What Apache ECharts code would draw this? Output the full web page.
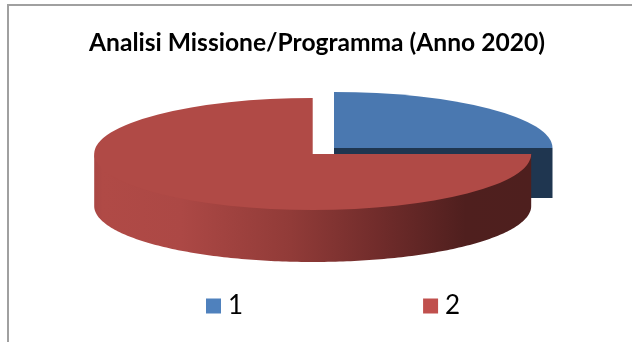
<!DOCTYPE html>
<html><head><meta charset="utf-8">
<style>html,body{margin:0;padding:0;background:#fff}#c{width:632px;height:342px}</style>
<script src="https://cdn.jsdelivr.net/npm/echarts@6/dist/echarts.min.js"></script>
</head><body><div id="c"></div>
<script>
const categories = ['1', '2'];
const values = [25, 75];
const titleText = 'Analisi Missione/Programma (Anno 2020)';
const legendColors = ['#4f81bd', '#c0504d'];
const topColors = ['#4a78b0', '#b04a46'];
const cutColor = '#1f3650';

const RX = 218.5, RY = 56;
const centers = [[334, 148], [312.7, 154]];
const depths = [50, 52];
const total = values.reduce((a, b) => a + b, 0);

function pt(c, deg) {           // deg: clockwise from north, on the tilted ellipse
  const a = deg * Math.PI / 180;
  return [c[0] + RX * Math.sin(a), c[1] - RY * Math.cos(a)];
}
function renderSlice(idx) {
  const start = values.slice(0, idx).reduce((a, b) => a + b, 0) / total * 360;
  const end = start + values[idx] / total * 360;
  const c = centers[idx], d = depths[idx];
  const children = [];
  // cut face on the east radius (seen when the slice ends at 90 deg)
  if (Math.abs(end - 90) < 1e-6) {
    const e = pt(c, end);
    children.push({ type: 'polygon', shape: { points: [c, e, [e[0], e[1] + d], [c[0], c[1] + d]] },
      style: { fill: cutColor } });
  }
  // curved outer wall on the front half; its top edge tucks under the top face
  const s0 = Math.max(start, 90), s1 = Math.min(end, 270);
  if (s1 > s0) {
    const up = [], down = [];
    for (let a = s0; a <= s1 + 1e-6; a += 1) {
      const p = pt(c, a); up.push([p[0], p[1] - 3]); down.unshift([p[0], p[1] + d]);
    }
    children.push({ type: 'polygon', shape: { points: up.concat(down) },
      style: { fill: new echarts.graphic.LinearGradient(94, 0, 531, 0, [
        { offset: 0, color: '#a94744' }, { offset: 0.02, color: '#b04a46' },
        { offset: 0.2, color: '#ac4845' }, { offset: 0.45, color: '#913b38' },
        { offset: 0.65, color: '#712c2b' }, { offset: 0.85, color: '#4f1f1e' },
        { offset: 1, color: '#4e1f1e' }], true) } });
  }
  // top face: a sector squashed into the ellipse
  const toRad = x => (x - 90) * Math.PI / 180;
  children.push({ type: 'sector', x: c[0], y: c[1], scaleY: RY / RX,
    shape: { cx: 0, cy: 0, r0: 0, r: RX, startAngle: toRad(start), endAngle: toRad(end), clockwise: true },
    style: { fill: topColors[idx] } });
  return { type: 'group', children };
}
const chart = echarts.init(document.getElementById('c'), null, { renderer: 'canvas' });
chart.setOption({
  animation: false,
  backgroundColor: '#fff',
  title: { text: titleText, left: 312, textAlign: 'center', top: 26,
    textStyle: { fontFamily: 'Lato', fontWeight: 'bold', fontSize: 24.6, color: '#000' } },
  legend: { left: 201, top: 288, itemWidth: 15, itemHeight: 15, itemGap: 180,
    icon: 'rect', data: categories.map((n, i) => ({ name: n, itemStyle: { color: legendColors[i] } })),
    selectedMode: false,
    textStyle: { fontFamily: 'Lato', fontSize: 26, color: '#000', padding: [0, 0, 0, 2] } },
  graphic: [
    { type: 'line', shape: { x1: 7, y1: 5, x2: 632, y2: 5 }, style: { stroke: '#a0a0a0', lineWidth: 2 } },
    { type: 'line', shape: { x1: 8, y1: 4, x2: 8, y2: 342 }, style: { stroke: '#a0a0a0', lineWidth: 2 } }
  ],
  series: categories.map((n, i) => ({
    type: 'custom', name: n, coordinateSystem: 'none', data: [values[i]],
    z: i + 1, silent: true,
    renderItem: () => renderSlice(i)
  }))
});
</script></body></html>
